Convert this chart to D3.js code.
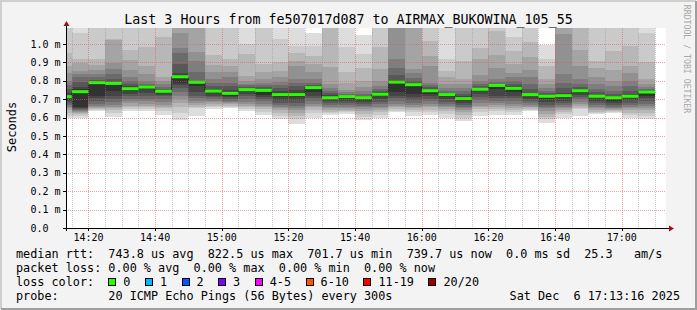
<!DOCTYPE html>
<html>
<head>
<meta charset="utf-8">
<title>SmokePing - Last 3 Hours</title>
<script src="https://cdn.jsdelivr.net/npm/d3@7/dist/d3.min.js"></script>
<style>
  body { margin: 0; background: #fff; }
  svg text { font-family: "DejaVu Sans Mono", monospace; white-space: pre; }
</style>
</head>
<body>
<script>
// end time of each 5 minute step
var times = ["14:15","14:20","14:25","14:30","14:35","14:40","14:45","14:50","14:55",
             "15:00","15:05","15:10","15:15","15:20","15:25","15:30","15:35","15:40",
             "15:45","15:50","15:55","16:00","16:05","16:10","16:15","16:20","16:25",
             "16:30","16:35","16:40","16:45","16:50","16:55","17:00","17:05","17:10"];

// median rtt per step (ms)
var medians = [0.714,0.741,0.790,0.786,0.757,0.766,0.743,0.822,0.792,0.744,0.732,0.752,
               0.748,0.725,0.725,0.763,0.708,0.714,0.708,0.727,0.793,0.779,0.746,0.725,
               0.703,0.754,0.775,0.759,0.725,0.716,0.719,0.746,0.716,0.708,0.716,0.739];

// 20 sorted pings per step (ms), these make the smoke
var pings = [
  [0.600,0.610,0.625,0.640,0.650,0.660,0.670,0.680,0.690,0.705,0.720,0.735,0.755,0.775,0.800,0.840,0.880,0.950,1.090,1.120],
  [0.596,0.608,0.617,0.625,0.630,0.635,0.640,0.645,0.650,0.656,0.755,0.765,0.792,0.819,0.837,0.855,0.895,0.918,1.058,1.120],
  [0.634,0.640,0.645,0.652,0.658,0.665,0.675,0.690,0.705,0.719,0.795,0.800,0.804,0.820,0.837,0.860,0.885,0.918,1.100,1.120],
  [0.605,0.625,0.640,0.650,0.660,0.670,0.685,0.700,0.719,0.746,0.788,0.792,0.810,0.837,0.864,0.895,1.020,1.027,1.100,1.120],
  [0.634,0.645,0.655,0.665,0.680,0.690,0.700,0.715,0.730,0.745,0.760,0.770,0.785,0.800,0.820,0.860,0.915,0.970,1.090,1.120],
  [0.634,0.645,0.655,0.665,0.675,0.690,0.700,0.715,0.735,0.755,0.768,0.772,0.778,0.785,0.800,0.837,0.883,0.982,1.090,1.120],
  [0.616,0.635,0.650,0.660,0.670,0.685,0.700,0.715,0.725,0.735,0.746,0.750,0.755,0.765,0.780,0.800,0.820,1.036,1.090,1.120],
  [0.587,0.625,0.660,0.680,0.700,0.720,0.740,0.760,0.775,0.790,0.826,0.840,0.890,0.950,0.980,1.060,1.100,1.120,1.150,1.200],
  [0.610,0.650,0.660,0.670,0.680,0.690,0.705,0.720,0.740,0.770,0.796,0.798,0.800,0.850,0.910,0.955,1.090,1.120,1.150,1.200],
  [0.647,0.655,0.665,0.675,0.685,0.690,0.700,0.710,0.720,0.735,0.748,0.757,0.770,0.790,0.810,0.850,0.885,0.940,1.090,1.120],
  [0.652,0.658,0.665,0.672,0.678,0.685,0.690,0.700,0.710,0.720,0.740,0.750,0.770,0.790,0.820,0.850,0.880,0.920,1.090,1.120],
  [0.638,0.645,0.655,0.665,0.675,0.685,0.700,0.715,0.730,0.745,0.755,0.758,0.765,0.775,0.785,0.800,0.828,0.946,1.000,1.120],
  [0.616,0.630,0.645,0.655,0.665,0.675,0.690,0.700,0.710,0.725,0.750,0.755,0.765,0.775,0.790,0.810,0.850,0.890,1.090,1.120],
  [0.592,0.610,0.625,0.640,0.650,0.660,0.670,0.680,0.695,0.710,0.735,0.745,0.760,0.775,0.795,0.820,0.855,0.900,1.027,1.120],
  [0.565,0.590,0.610,0.625,0.640,0.650,0.665,0.680,0.695,0.710,0.735,0.750,0.770,0.790,0.810,0.880,0.910,0.950,0.990,1.120],
  [0.598,0.625,0.640,0.655,0.665,0.675,0.690,0.705,0.720,0.740,0.765,0.770,0.775,0.790,0.810,0.850,0.890,0.935,0.990,1.058],
  [0.616,0.625,0.630,0.640,0.650,0.660,0.670,0.680,0.690,0.700,0.715,0.725,0.735,0.745,0.760,0.780,0.873,1.100,1.120,1.150],
  [0.620,0.628,0.635,0.640,0.650,0.660,0.670,0.680,0.690,0.700,0.715,0.720,0.725,0.730,0.740,0.750,0.790,0.846,0.982,1.120],
  [0.587,0.605,0.620,0.635,0.645,0.655,0.665,0.675,0.685,0.695,0.710,0.713,0.720,0.730,0.745,0.765,0.800,0.870,0.946,1.050],
  [0.600,0.615,0.630,0.640,0.650,0.660,0.675,0.685,0.700,0.715,0.730,0.737,0.745,0.755,0.770,0.800,0.865,0.984,1.090,1.120],
  [0.629,0.638,0.645,0.655,0.665,0.675,0.690,0.705,0.720,0.737,0.795,0.805,0.830,0.870,0.918,1.100,1.120,1.150,1.200,1.250],
  [0.610,0.630,0.640,0.650,0.660,0.670,0.680,0.695,0.710,0.730,0.783,0.790,0.800,0.815,0.840,0.864,1.100,1.120,1.150,1.200],
  [0.616,0.628,0.640,0.655,0.665,0.675,0.690,0.700,0.715,0.730,0.750,0.755,0.765,0.775,0.790,0.880,0.936,1.018,1.090,1.120],
  [0.600,0.620,0.635,0.645,0.655,0.665,0.675,0.685,0.700,0.710,0.725,0.730,0.735,0.745,0.760,0.780,0.820,0.855,0.918,1.120],
  [0.583,0.600,0.615,0.630,0.640,0.650,0.660,0.670,0.680,0.690,0.707,0.715,0.730,0.745,0.760,0.780,0.810,0.910,1.090,1.120],
  [0.610,0.630,0.645,0.655,0.665,0.680,0.695,0.710,0.730,0.745,0.756,0.760,0.770,0.780,0.800,0.830,0.920,0.980,1.090,1.120],
  [0.616,0.635,0.645,0.660,0.670,0.680,0.690,0.705,0.720,0.755,0.777,0.780,0.785,0.795,0.810,0.870,0.940,1.070,1.090,1.120],
  [0.616,0.628,0.640,0.650,0.665,0.675,0.690,0.705,0.720,0.740,0.762,0.770,0.780,0.800,0.820,0.840,0.890,0.960,1.040,1.120],
  [0.634,0.640,0.648,0.655,0.660,0.670,0.680,0.690,0.700,0.715,0.728,0.735,0.755,0.780,0.820,0.860,0.930,1.010,1.090,1.120],
  [0.569,0.590,0.605,0.620,0.635,0.650,0.660,0.670,0.685,0.700,0.718,0.725,0.735,0.745,0.760,0.780,0.810,0.880,0.918,0.996],
  [0.598,0.620,0.630,0.640,0.650,0.660,0.670,0.680,0.690,0.705,0.722,0.735,0.760,0.790,0.837,1.055,1.100,1.120,1.150,1.200],
  [0.610,0.645,0.650,0.665,0.675,0.685,0.700,0.710,0.725,0.735,0.748,0.755,0.765,0.785,0.810,0.880,0.970,1.090,1.100,1.120],
  [0.620,0.625,0.632,0.640,0.650,0.660,0.670,0.680,0.690,0.705,0.718,0.725,0.740,0.755,0.780,0.820,0.870,0.905,1.090,1.120],
  [0.623,0.628,0.635,0.640,0.645,0.650,0.660,0.670,0.680,0.690,0.712,0.720,0.730,0.745,0.770,0.800,0.860,0.960,1.090,1.120],
  [0.600,0.615,0.625,0.640,0.650,0.660,0.670,0.680,0.695,0.705,0.720,0.728,0.745,0.770,0.800,0.840,0.880,0.990,1.090,1.120],
  [0.592,0.610,0.625,0.640,0.650,0.665,0.675,0.690,0.705,0.720,0.740,0.743,0.748,0.755,0.765,0.785,0.810,0.900,1.060,1.120]
];

var yTicks = [0, 0.1, 0.2, 0.3, 0.4, 0.5, 0.6, 0.7, 0.8, 0.9, 1.0];
var yTickLabels = ["0.0", "0.1 m", "0.2 m", "0.3 m", "0.4 m", "0.5 m", "0.6 m", "0.7 m", "0.8 m", "0.9 m", "1.0 m"];

var lossLabels = ["0", "1", "2", "3", "4-5", "6-10", "11-19", "20/20"];
var lossColors = ["#26ff00", "#00b8ff", "#0059ff", "#7e00ff", "#ff00ff", "#ff5500", "#ff0000", "#a10000"];

var title = "Last 3 Hours from fe507017d087 to AIRMAX_BUKOWINA_105_55";
var legendRtt = "median rtt:  743.8 us avg  822.5 us max  701.7 us min  739.7 us now  0.0 ms sd  25.3   am/s";
var legendLoss = "packet loss: 0.00 % avg  0.00 % max  0.00 % min  0.00 % now";
var legendProbe = "probe:       20 ICMP Echo Pings (56 Bytes) every 300s";
var stamp = "Sat Dec  6 17:13:16 2025";

var W = 697, H = 310;
var parse = d3.timeParse("%Y-%m-%d %H:%M");
var start = new Date(2025, 11, 6, 14, 13, 16),
    end = new Date(2025, 11, 6, 17, 13, 16);

var x = d3.scaleTime().domain([start, end]).range([66, 666]);
var y = d3.scaleLinear().domain([0, 1.087]).range([228, 28]);

var svg = d3.select("body").append("svg")
    .attr("width", W)
    .attr("height", H);

// canvas + 3d border
svg.append("rect").attr("width", W).attr("height", H).attr("fill", "#f3f3f3");
svg.append("path").attr("d", "M1,309V1H696").attr("fill", "none").attr("stroke", "#cfcfcf").attr("stroke-width", 2);
svg.append("path").attr("d", "M1,309H696V1").attr("fill", "none").attr("stroke", "#9e9e9e").attr("stroke-width", 2);

svg.append("rect")
    .attr("x", 66).attr("y", 28).attr("width", 600).attr("height", 200)
    .attr("fill", "#ffffff");

svg.append("clipPath").attr("id", "plot")
  .append("rect").attr("x", 66).attr("y", 28).attr("width", 600).attr("height", 200);

var steps = times.map(function(t, i) {
  var e = parse("2025-12-06 " + t);
  var s = d3.timeMinute.offset(e, -5);
  if (s < start) s = start;
  return { s: s, e: e, med: medians[i], p: pings[i] };
});

var g = svg.append("g").attr("clip-path", "url(#plot)");

// smoke: pair k covers ping k .. ping 21-k, inner pairs darker
d3.range(1, 11).forEach(function(k) {
  var c = Math.floor(190 / 10 * (10 - k)) + 50;
  var col = d3.rgb(c, c, c).toString();
  g.selectAll("rect.smoke" + k)
    .data(steps)
    .enter().append("rect")
      .attr("class", "smoke" + k)
      .attr("x", function(d) { return x(d.s); })
      .attr("width", function(d) { return x(d.e) - x(d.s); })
      .attr("y", function(d) { return y(d.p[20 - k]); })
      .attr("height", function(d) { return y(d.p[k - 1]) - y(d.p[20 - k]); })
      .attr("fill", col)
      .attr("shape-rendering", "crispEdges");
});

// median step line
var medPts = steps.map(function(d) { return [x(d.s), y(d.med)]; });
medPts.push([x(steps[steps.length - 1].e), y(steps[steps.length - 1].med)]);
g.append("path")
    .attr("d", d3.line().curve(d3.curveStepAfter)(medPts))
    .attr("fill", "none")
    .attr("stroke", "#202020")
    .attr("stroke-width", 1);

g.selectAll("rect.med")
  .data(steps)
  .enter().append("rect")
    .attr("class", "med")
    .attr("x", function(d) { return x(d.s); })
    .attr("width", function(d) { return x(d.e) - x(d.s); })
    .attr("y", function(d) { return y(d.med) - 1.5; })
    .attr("height", 3)
    .attr("fill", lossColors[0]);

// grid on top
var minorT = d3.timeMinute.every(5).range(start, end).filter(function(t) { return t.getMinutes() % 20 != 0; });
var majorT = d3.timeMinute.every(20).range(start, end);

svg.selectAll("line.vmin").data(minorT).enter().append("line")
    .attr("x1", function(d) { return Math.round(x(d)) + 0.5; })
    .attr("x2", function(d) { return Math.round(x(d)) + 0.5; })
    .attr("y1", 28).attr("y2", 228)
    .attr("stroke", "rgba(140,140,140,0.45)")
    .attr("stroke-dasharray", "1,1");

svg.selectAll("line.vmaj").data(majorT).enter().append("line")
    .attr("x1", function(d) { return Math.round(x(d)) + 0.5; })
    .attr("x2", function(d) { return Math.round(x(d)) + 0.5; })
    .attr("y1", 28).attr("y2", 228)
    .attr("stroke", "rgba(225,90,90,0.55)")
    .attr("stroke-dasharray", "1,1");

svg.selectAll("line.hmaj").data(yTicks.slice(1)).enter().append("line")
    .attr("x1", 66).attr("x2", 666)
    .attr("y1", function(d) { return Math.round(y(d)) + 0.5; })
    .attr("y2", function(d) { return Math.round(y(d)) + 0.5; })
    .attr("stroke", "rgba(225,90,90,0.55)")
    .attr("stroke-dasharray", "1,1");

// axes
svg.append("line").attr("x1", 63).attr("x2", 670).attr("y1", 228.5).attr("y2", 228.5).attr("stroke", "#000");
svg.append("line").attr("x1", 66.5).attr("x2", 66.5).attr("y1", 231).attr("y2", 24).attr("stroke", "#000");
svg.append("path").attr("d", "M66.5,21L63.5,26H69.5Z").attr("fill", "#a01010");
svg.append("path").attr("d", "M674,228.5L669,225.5V231.5Z").attr("fill", "#a01010");

svg.selectAll("line.ytick").data(yTicks).enter().append("line")
    .attr("x1", 63).attr("x2", 66)
    .attr("y1", function(d) { return Math.round(y(d)) + 0.5; })
    .attr("y2", function(d) { return Math.round(y(d)) + 0.5; })
    .attr("stroke", "#000");

svg.selectAll("line.xtick").data(majorT).enter().append("line")
    .attr("x1", function(d) { return Math.round(x(d)) + 0.5; })
    .attr("x2", function(d) { return Math.round(x(d)) + 0.5; })
    .attr("y1", 228).attr("y2", 231)
    .attr("stroke", "#000");

svg.selectAll("text.ylab").data(yTicks).enter().append("text")
    .attr("x", 30.5)
    .attr("y", function(d) { return y(d) + 3.6; })
    .attr("font-size", 10)
    .text(function(d, i) { return yTickLabels[i]; });

var fmt = d3.timeFormat("%H:%M");
svg.selectAll("text.xlab").data(majorT).enter().append("text")
    .attr("x", function(d) { return x(d); })
    .attr("y", 240.5)
    .attr("font-size", 10)
    .attr("text-anchor", "middle")
    .text(function(d) { return fmt(d); });

// titles
svg.append("text")
    .attr("x", 348.5).attr("y", 24)
    .attr("font-size", 13.3)
    .attr("text-anchor", "middle")
    .text(title);

svg.append("text")
    .attr("transform", "translate(15.5,127) rotate(-90)")
    .attr("font-size", 12)
    .attr("text-anchor", "middle")
    .text("Seconds");

svg.append("text")
    .attr("transform", "translate(684,59) rotate(90)")
    .attr("font-size", 8.2)
    .attr("fill", "#a8a8a8")
    .attr("text-anchor", "middle")
    .text("RRDTOOL / TOBI OETIKER");

// legend
var lf = 11.8, cw = lf * 0.6021;
svg.append("text").attr("x", 16).attr("y", 257.7).attr("font-size", lf).text(legendRtt);
svg.append("text").attr("x", 16).attr("y", 271.7).attr("font-size", lf).text(legendLoss);
svg.append("text").attr("x", 16).attr("y", 285.7).attr("font-size", lf).text("loss color:");
svg.append("text").attr("x", 16).attr("y", 299.7).attr("font-size", lf).text(legendProbe);
svg.append("text").attr("x", 680).attr("y", 299.7).attr("font-size", lf)
    .attr("text-anchor", "end").text(stamp);

var bx = 108.3;
lossLabels.forEach(function(l, i) {
  svg.append("rect")
      .attr("x", Math.round(bx) + 0.5).attr("y", 278.5)
      .attr("width", 7).attr("height", 7)
      .attr("fill", lossColors[i])
      .attr("stroke", "#000");
  svg.append("text")
      .attr("x", bx + 15).attr("y", 285.7)
      .attr("font-size", lf)
      .text(l);
  bx += 15 + l.length * cw + 14.5;
});
</script>
</body>
</html>
